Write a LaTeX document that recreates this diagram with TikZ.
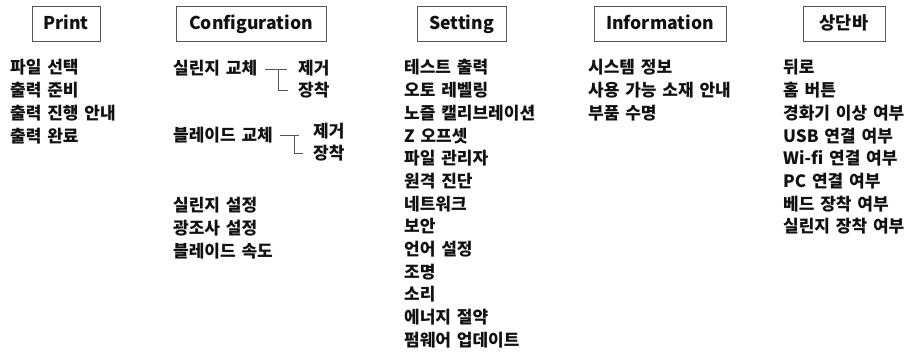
\documentclass[tikz,border=0pt]{standalone}
\usepackage{fontspec}
\setmainfont{Noto Sans CJK KR}[WordSpace=1.5]
\usetikzlibrary{calc}
\definecolor{ink}{HTML}{111111}
\definecolor{frame}{HTML}{555555}
\tikzset{
  head/.style={draw=frame, line width=1pt, inner sep=0pt, align=center,
    font=\bfseries\fontsize{17.6}{19}\selectfont, text=ink,
    text height=13.5pt, text depth=1.5pt, minimum height=35pt},
  item/.style={anchor=west, inner sep=0pt, text=ink,
    font=\bfseries\fontsize{17}{18}\selectfont,
    text height=14.1pt, text depth=1.2pt},
  link/.style={draw=frame, line width=0.9pt}
}
\begin{document}
\begin{tikzpicture}[x=1pt, y=-1pt]
\useasboundingbox (0,0) rectangle (909,351);
% headings
\node[head, minimum width=68pt]  (hp) at (66,23.5)    {Print};
\node[head, minimum width=150pt] (hc) at (251,23.5)   {Configuration};
\node[head, minimum width=89pt]  (hs) at (461.5,23.5) {Setting};
\node[head, minimum width=132pt] (hi) at (660,23.5)   {Information};
\node[head, minimum width=82pt]  (hb) at (844,23.5)   {상단바};
% Print
\node[item] (p1) at (10,67.5)  {파일 선택};
\node[item] (p2) at (10,90.2)  {출력 준비};
\node[item] (p3) at (10,112.9) {출력 진행 안내};
\node[item] (p4) at (10,135.6) {출력 완료};
% Configuration
\node[item] (c1)  at (173,68.5) {실린지 교체};
\node[item] (c1a) at (298,68)   {제거};
\node[item] (c1b) at (298,90)   {장착};
\node[item] (c2)  at (173,135.5){블레이드 교체};
\node[item] (c2a) at (313,131.5){제거};
\node[item] (c2b) at (313,153)  {장착};
\node[item] (c3)  at (173,205)  {실린지 설정};
\node[item] (c4)  at (173,228)  {광조사 설정};
\node[item] (c5)  at (173,251)  {블레이드 속도};
\draw[link] ($(c1a.west)+(-33,1)$) -- ($(c1a.west)+(-11,1)$);
\draw[link] ($(c1a.west)+(-20,1)$) |- ([xshift=-10pt]c1b.west);
\draw[link] ($(c2a.west)+(-33,3.5)$) -- ($(c2a.west)+(-14,3.5)$);
\draw[link] ($(c2a.west)+(-19,3.5)$) |- ([xshift=-10pt]c2b.west);
% Setting
\node[item] (s1)  at (404,67.5)  {테스트 출력};
\node[item] (s2)  at (404,90.2)  {오토 레벨링};
\node[item] (s3)  at (404,112.9) {노즐 캘리브레이션};
\node[item] (s4)  at (404,135.6) {Z 오프셋};
\node[item] (s5)  at (404,158.3) {파일 관리자};
\node[item] (s6)  at (404,181)   {원격 진단};
\node[item] (s7)  at (404,203.7) {네트워크};
\node[item] (s8)  at (404,226.4) {보안};
\node[item] (s9)  at (404,249.1) {언어 설정};
\node[item] (s10) at (404,271.8) {조명};
\node[item] (s11) at (404,294.5) {소리};
\node[item] (s12) at (404,317.2) {에너지 절약};
\node[item] (s13) at (404,339.9) {펌웨어 업데이트};
% Information
\node[item] (i1) at (588,67.5)  {시스템 정보};
\node[item] (i2) at (588,90.2)  {사용 가능 소재 안내};
\node[item] (i3) at (588,112.9) {부품 수명};
% 상단바
\node[item] (b1) at (783,67.5)  {뒤로};
\node[item] (b2) at (783,90.2)  {홈 버튼};
\node[item] (b3) at (783,112.9) {경화기 이상 여부};
\node[item] (b4) at (783,135.6) {USB 연결 여부};
\node[item] (b5) at (783,158.3) {Wi-fi 연결 여부};
\node[item] (b6) at (783,181)   {PC 연결 여부};
\node[item] (b7) at (783,203.7) {베드 장착 여부};
\node[item] (b8) at (783,226.4) {실린지 장착 여부};
\end{tikzpicture}
\end{document}
